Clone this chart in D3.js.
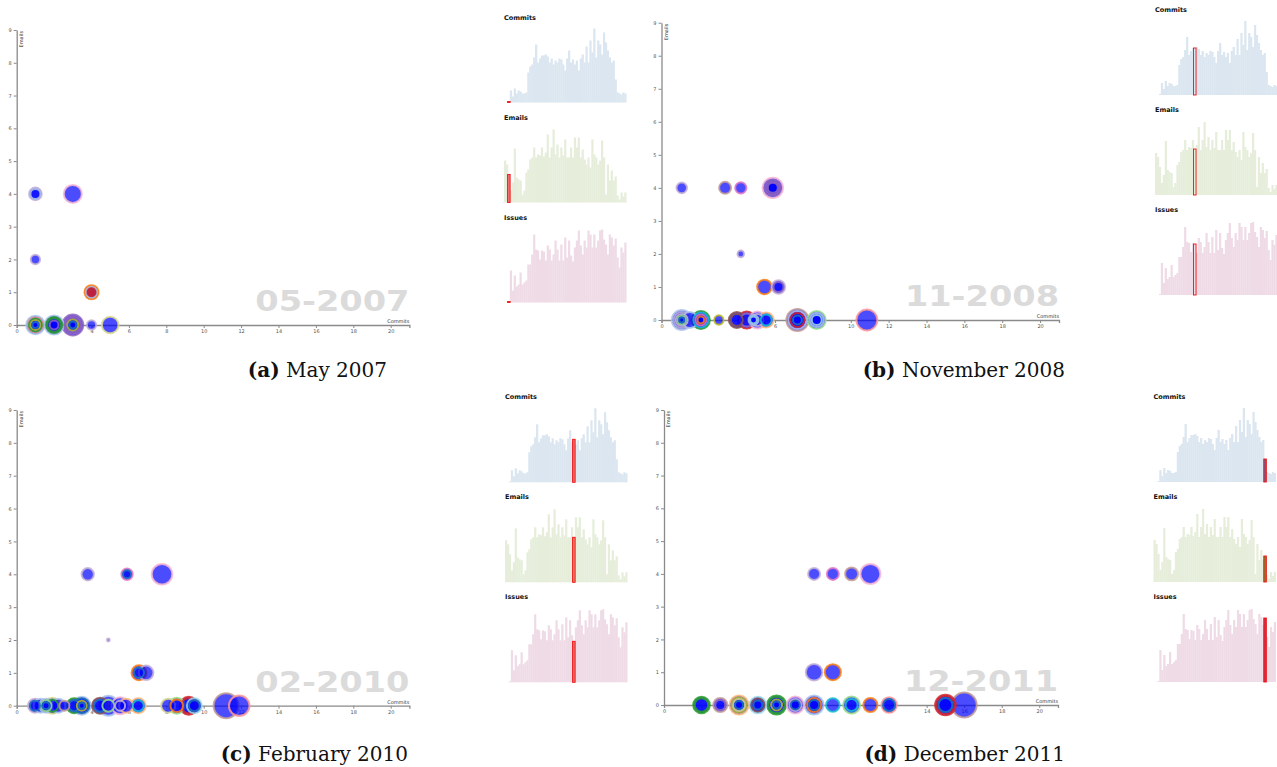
<!DOCTYPE html>
<html>
<head>
<meta charset="utf-8">
<script src="https://cdn.jsdelivr.net/npm/d3@7"></script>
<style>
  body { margin: 0; background: #fff; }
  svg { display: block; }
</style>
</head>
<body>
<svg id="fig" width="1277" height="767"></svg>
<script>
// ---- data ----
let firstMonth = "03-2007";
let snapshots = ["05-2007", "11-2008", "02-2010", "12-2011"];
let captionTags = ["(a)", "(b)", "(c)", "(d)"];
let captionTexts = ["May 2007", "November 2008", "February 2010", "December 2011"];

let seriesNames = ["Commits", "Emails", "Issues"];
let commitsHist = [0,0,1,12,6,14,9,12,11,9, 9,10,30,36,38,45,58,40,44,47, 47,48,46,40,44,38,42,40,44,43,
                   38,32,44,52,40,43,38,42,32,44, 48,40,56,40,62,50,74,45,62,58, 48,70,60,52,45,40,42,23,10,9, 8,10,9];
let emailsHist  = [42,38,28,12,20,54,25,23,22,8, 12,30,33,43,45,55,45,48,47,55, 46,50,68,45,55,73,48,58,45,55,
                   47,63,45,45,55,45,65,55,65,45, 53,43,38,45,35,63,48,45,38,42, 62,45,8,38,22,32,22,26,7,3, 10,6,10];
let issuesHist  = [0,0,1,32,12,27,16,18,30,18, 20,22,38,38,48,68,53,52,43,52, 51,42,57,53,42,48,62,53,42,58,
                   42,65,45,62,47,41,55,62,72,57, 48,62,55,72,68,55,68,55,62,72, 73,63,58,48,68,65,57,64,45,35, 55,50,60];

// bubbles: [commits, emails, activity, developer]
let bubblesA = [
  [1,4,40,9],[1,4,25,1],[3,4,81,13],[1,2,22,9],
  [4,1,49,2],[4,1,30,15],[4,1,16,6],[4,1,6,6],[4,1,1,6],
  [1,0,85,1],[1,0,56,7],[1,0,42,4],[1,0,25,16],[1,0,9,0],
  [2,0,90,1],[2,0,64,4],[2,0,46,4],[2,0,20,8],
  [3,0,110,8],[3,0,72,8],[3,0,49,8],[3,0,30,16],[3,0,12,0],
  [4,0,22,9],[5,0,69,17]
];
let bubblesB = [
  [1.07,4,28,9],[3.36,4,36,11],[4.19,4,32,12],
  [5.88,4,104,13],[5.88,4,64,8],[5.88,4,42,8],[5.88,4,25,8],
  [4.19,2,11,9],
  [5.44,1,53,2],[6.18,1,45,9],[6.18,1,25,8],
  [1.07,0,100,1],[1.07,0,64,9],[1.07,0,36,15],[1.07,0,18,5],[1.07,0,6,0],
  [1.5,0,64,1],
  [2.08,0,81,4],[2.08,0,56,18],[2.08,0,30,12],[2.08,0,12,2],
  [3.03,0,22,16],
  [3.98,0,64,10],[3.98,0,36,10],
  [4.5,0,72,6],[4.5,0,42,8],
  [5.07,0,72,13],[5.07,0,36,9],
  [4.86,0,25,1],[4.86,0,12,19],
  [5.53,0,56,3],[5.53,0,30,18],
  [7.18,0,121,11],[7.18,0,81,1],[7.18,0,49,6],[7.18,0,20,0],
  [8.2,0,81,5],[8.2,0,49,1],[8.2,0,25,19],
  [10.85,0,110,7]
];
let bubblesC = [
  [3.8,4,38,9],[5.9,4,32,12],[5.9,4,16,0],[7.77,4,106,13],
  [4.9,2,2,9],
  [6.54,1,56,2],[6.54,1,25,0],[6.92,1,53,9],
  [0.98,0,49,9],[0.98,0,25,0],
  [1.28,0,49,1],
  [1.57,0,49,1],[1.57,0,30,5],[1.57,0,12,0],
  [1.9,0,64,17],[1.9,0,36,4],
  [2.23,0,49,1],
  [2.55,0,25,11],
  [3.07,0,56,4],[3.07,0,30,0],
  [3.48,0,81,1],[3.48,0,56,0],[3.48,0,25,16],[3.48,0,9,0],
  [4.46,0,64,10],[4.46,0,36,0],
  [4.9,0,100,1],[4.9,0,36,5],
  [5.53,0,72,13],[5.53,0,25,9],
  [5.85,0,49,3],
  [6.5,0,56,3],[6.5,0,30,18],
  [8.1,0,49,17],
  [8.56,0,64,5],[8.56,0,40,2],
  [9.2,0,81,6],[9.2,0,56,6],
  [9.5,0,56,19],[9.5,0,30,0],
  [11.2,0,156,11],
  [11.9,0,106,7]
];
let bubblesD = [
  [8,4,36,9],[9,4,36,12],[10,4,42,11],[11,4,100,13],
  [8,1,69,9],[9,1,64,2],
  [2,0,69,4],[2,0,46,4],
  [3,0,49,11],[3,0,25,8],
  [4,0,90,3],[4,0,56,16],[4,0,36,17],[4,0,16,0],
  [5,0,69,19],[5,0,42,10],[5,0,20,0],
  [6,0,90,4],[6,0,64,4],[6,0,30,16],[6,0,12,0],
  [7,0,72,13],[7,0,36,9],[7,0,20,0],
  [8,0,90,1],[8,0,49,2],[8,0,25,0],
  [9,0,46,18],
  [10,0,72,5],[10,0,36,18],
  [11,0,49,2],
  [12,0,59,7],[12,0,36,0],
  [15,0,106,6],[15,0,81,6],[15,0,49,0],
  [16,0,156,11]
];
let bubbles = [bubblesA, bubblesB, bubblesC, bubblesD];

// ---- styles / layout ----
let palette = ["#1f77b4","#aec7e8","#ff7f0e","#ffbb78","#2ca02c","#98df8a","#d62728","#ff9896","#9467bd","#c5b0d5",
               "#8c564b","#c49c94","#e377c2","#f7b6d2","#7f7f7f","#c7c7c7","#bcbd22","#dbdb8d","#17becf","#9edae5"];
let color = d3.scaleOrdinal().domain(d3.range(20)).range(palette);
let rScale = d3.scaleSqrt().domain([0, 100]).range([0, 10]);
let histColors = ["#dbe6f0", "#e6eedb", "#efdbe6"];

let layouts = [
  {plot: {x: 16.7, y: 30, w: 392.7, h: 295},  hist: {x: 504, t: 19.5},  cap: {x: 387, y: 377},  hi: ["#f07272","#f07272","#f07272"]},
  {plot: {x: 661.5, y: 22.7, w: 397.5, h: 297.3}, hist: {x: 1155, t: 12}, cap: {x: 1065, y: 377}, hi: ["none","none","none"]},
  {plot: {x: 16.7, y: 410, w: 392.7, h: 295.7}, hist: {x: 505, t: 399.3}, cap: {x: 408, y: 761}, hi: ["#ee6b6b","#ee7a6a","#ee6b6b"]},
  {plot: {x: 664, y: 410, w: 394, h: 295},   hist: {x: 1153.5, t: 399}, cap: {x: 1065, y: 761}, hi: ["#7a5a85","#8a7a2a","#d0304a"]}
];

let svg = d3.select("#fig");
let series = [commitsHist, emailsHist, issuesHist];
let histMax = d3.max(series, s => d3.max(s));
let binW = 1.94;

function binOf(label) {
  let [m, y] = label.split("-").map(Number);
  let [m0, y0] = firstMonth.split("-").map(Number);
  return (y - y0) * 12 + (m - m0);
}

layouts.forEach((L, p) => {
  let g = svg.append("g");

  let x = d3.scaleLinear().domain([0, 21]).range([L.plot.x, L.plot.x + L.plot.w]);
  let y = d3.scaleLinear().domain([0, 9]).range([L.plot.y + L.plot.h, L.plot.y]);

  // big date watermark
  g.append("text")
    .attr("transform", "translate(" + x(21) + "," + (y(0) - 14) + ") scale(1.2,1)")
    .attr("text-anchor", "end")
    .attr("font-family", "DejaVu Sans")
    .attr("font-weight", "bold")
    .attr("font-size", 28)
    .attr("fill", "#dbdbdb")
    .text(snapshots[p]);

  // axes
  let xAxis = g.append("g")
    .attr("transform", "translate(0," + y(0) + ")")
    .call(d3.axisBottom(x).tickValues(d3.range(0, 21, 2)).tickSize(3).tickPadding(1.5));
  let yAxis = g.append("g")
    .attr("transform", "translate(" + x(0) + ",0)")
    .call(d3.axisLeft(y).tickValues(d3.range(0, 10)).tickSize(3).tickSizeOuter(0).tickPadding(2));
  [xAxis, yAxis].forEach(a => {
    a.select(".domain").attr("stroke", "#8a8a8a").attr("stroke-width", 1.3);
    a.selectAll(".tick line").attr("stroke", "#8a8a8a");
    a.selectAll(".tick text").attr("font-size", 5).attr("font-family", "DejaVu Sans").attr("fill", "#555");
  });

  g.append("text")
    .attr("x", x(21)).attr("y", y(0) - 2)
    .attr("text-anchor", "end")
    .attr("font-family", "DejaVu Sans").attr("font-size", 5).attr("fill", "#333")
    .text("Commits");
  g.append("text")
    .attr("transform", "translate(" + (x(0) + 6) + "," + (y(9) + 1) + ") rotate(-90)")
    .attr("text-anchor", "end")
    .attr("font-family", "DejaVu Sans").attr("font-size", 5).attr("fill", "#333")
    .text("Emails");

  // bubbles
  let data = bubbles[p].map(d => ({c: d[0], e: d[1], a: d[2], dev: d[3]}))
    .sort((m, n) => n.a - m.a);
  g.append("g").selectAll("circle")
    .data(data)
    .join("circle")
    .attr("cx", d => x(d.c))
    .attr("cy", d => y(d.e))
    .attr("r", d => rScale(d.a))
    .attr("fill", "blue")
    .attr("fill-opacity", 0.7)
    .attr("stroke", d => color(d.dev))
    .attr("stroke-width", 2)
    .attr("stroke-opacity", 0.85);

  // histograms
  let hi = binOf(snapshots[p]);
  series.forEach((s, k) => {
    let top = L.hist.t + k * 100;
    let base = top + 83;
    let bx = d3.scaleBand().domain(d3.range(s.length)).range([L.hist.x, L.hist.x + s.length * binW]);
    let by = d3.scaleLinear().domain([0, histMax]).range([base, base - 74]);

    g.append("text")
      .attr("x", L.hist.x).attr("y", top)
      .attr("font-family", "DejaVu Sans").attr("font-weight", "bold")
      .attr("font-size", 6.5).attr("fill", "#111")
      .text(seriesNames[k]);

    g.append("g").selectAll("rect")
      .data(s)
      .join("rect")
      .attr("x", (d, i) => bx(i))
      .attr("y", d => by(d))
      .attr("width", bx.bandwidth() + 0.3)
      .attr("height", d => base - by(d))
      .attr("fill", histColors[k]);

    g.append("rect")
      .attr("x", bx(hi) - 0.3)
      .attr("y", by(s[hi]))
      .attr("width", bx.bandwidth() + 0.6)
      .attr("height", base - by(s[hi]))
      .attr("fill", L.hi[k])
      .attr("stroke", "#f01010")
      .attr("stroke-width", 0.9);
  });

  // caption
  let cap = g.append("text")
    .attr("x", L.cap.x).attr("y", L.cap.y)
    .attr("text-anchor", "end")
    .attr("font-family", "DejaVu Serif").attr("font-size", 20).attr("fill", "#111");
  cap.append("tspan").attr("font-weight", "bold").text(captionTags[p]);
  cap.append("tspan").text(" " + captionTexts[p]);
});
</script>
</body>
</html>
